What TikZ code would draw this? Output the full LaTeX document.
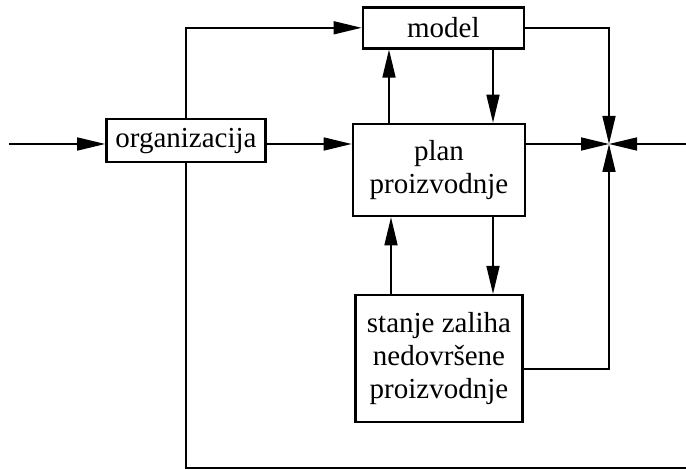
\documentclass[tikz,border=0pt]{standalone}
\usepackage{fontspec}
\setmainfont{Liberation Serif}
\usetikzlibrary{arrows.meta}
\begin{document}
\begin{tikzpicture}[x=1pt,y=-1pt,
  block/.style={draw, line width=2.6pt, inner sep=0pt, align=center,
    font=\fontsize{29}{33}\selectfont},
  link/.style={line width=1.6pt},
  flow/.style={link, -{Triangle[length=28pt,width=13pt]}}]
\useasboundingbox (0,0) rectangle (686,470);

% blocks
\node[block, minimum width=161pt, minimum height=41pt] (model) at (443.4,27.8) {model};
\node[block, minimum width=159pt, minimum height=43pt] (org) at (186,140.7) {organizacija};
\node[block, minimum width=172pt, minimum height=92pt] (plan) at (439,170) {plan\\proizvodnje};
\node[block, minimum width=167pt, minimum height=127pt] (stanje) at (439,358.7) {stanje zaliha\\nedovršene\\proizvodnje};

% helper points
\coordinate (J) at (609,144);
\coordinate (inL) at (9,144);
\coordinate (inR) at (686,144);
\coordinate (up1) at (389,0);
\coordinate (dn1) at (493,0);
\coordinate (up2) at (391,0);
\coordinate (st) at (0,369);
\coordinate (base) at (686,468);

% connectors
\draw[flow] (inL) -- (inL -| org.west);
\draw[flow] (org.east |- J) -- (plan.west |- J);
\draw[flow] (org.north) -- (org.north |- model.west) -- (model.west);
\draw[flow] (plan.north -| up1) -- (model.south -| up1);
\draw[flow] (model.south -| dn1) -- (plan.north -| dn1);
\draw[flow] (model.east) -- (model.east -| J) -- (J);
\draw[flow] (plan.east |- J) -- (J);
\draw[flow] (inR) -- (J);
\draw[flow] (stanje.north -| up2) -- (plan.south -| up2);
\draw[flow] (plan.south -| dn1) -- (stanje.north -| dn1);
\draw[flow] (stanje.east |- st) -- (J |- st) -- (J);
\draw[link] (org.south) -- (org.south |- base) -- (base);
\end{tikzpicture}
\end{document}
